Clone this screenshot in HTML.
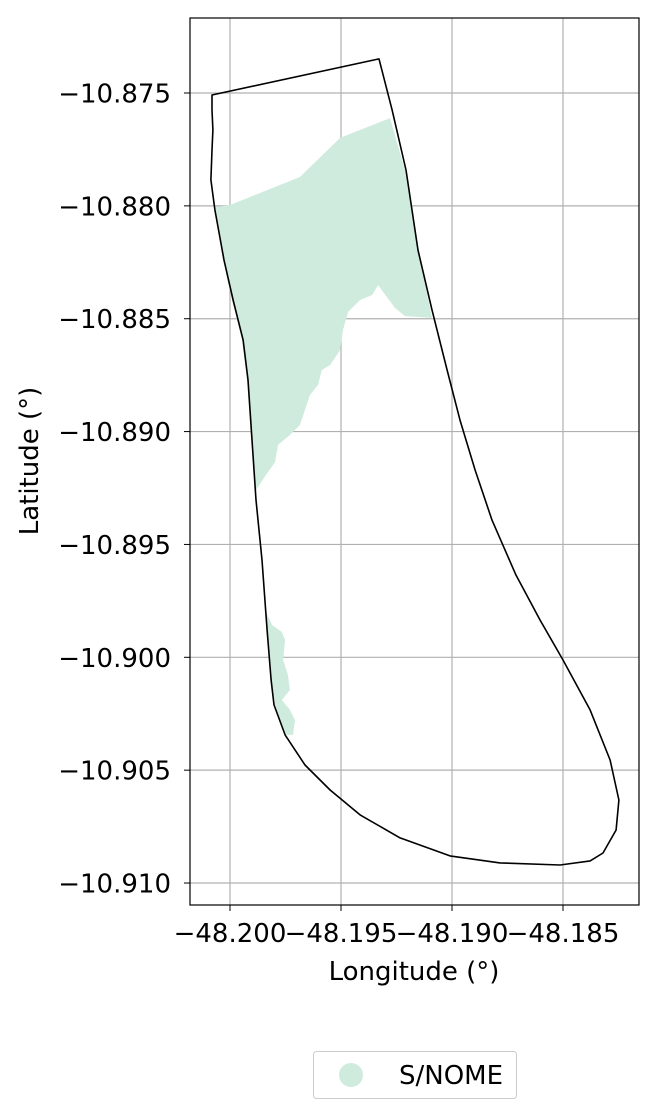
<!DOCTYPE html>
<html>
<head>
<meta charset="utf-8">
<style>
html,body{margin:0;padding:0;background:#fff;}
svg{display:block;font-family:"DejaVu Sans","Liberation Sans",sans-serif;}
</style>
</head>
<body>
<svg id="chart" width="658" height="1119" viewBox="0 0 658 1119">
  <rect x="0" y="0" width="658" height="1119" fill="#fff"/>
  <g id="grid"></g>
  <g id="areas"></g>
  <g id="outline"></g>
  <rect x="190" y="18" width="449" height="887" fill="none" stroke="#000" stroke-width="1.2"/>
  <g id="ticks"></g>
  <text x="414" y="980" font-size="26" text-anchor="middle">Longitude (°)</text>
  <text x="38" y="461" font-size="26" text-anchor="middle" transform="rotate(-90 38 461)">Latitude (°)</text>
  <g>
    <rect x="313.5" y="1051.5" width="203" height="47" rx="3" fill="#fff" stroke="#ccc" stroke-width="1"/>
    <circle cx="351" cy="1075" r="12" fill="#cfebdd"/>
    <text x="399" y="1084" font-size="26">S/NOME</text>
  </g>
</svg>
<script>
const xTicks = [-48.200, -48.195, -48.190, -48.185];
const yTicks = [-10.875, -10.880, -10.885, -10.890, -10.895, -10.900, -10.905, -10.910];
const xTickLabels = ["\u221248.200", "\u221248.195", "\u221248.190", "\u221248.185"];
const yTickLabels = ["\u221210.875", "\u221210.880", "\u221210.885", "\u221210.890", "\u221210.895", "\u221210.900", "\u221210.905", "\u221210.910"];

const outlineLon = [-48.20081,-48.19329,-48.19270,-48.19207,-48.19153,-48.19090,-48.19022,-48.18964,-48.18896,-48.18820,-48.18712,-48.18603,-48.18500,-48.18378,-48.18288,-48.18248,-48.18261,-48.18320,-48.18378,-48.18513,-48.18784,-48.19009,-48.19234,-48.19414,-48.19549,-48.19662,-48.19752,-48.19802,-48.19815,-48.19833,-48.19856,-48.19883,-48.19901,-48.19919,-48.19941,-48.19986,-48.20027,-48.20068,-48.20086,-48.20081,-48.20077,-48.20081];
const outlineLat = [-10.87509,-10.87349,-10.87575,-10.87841,-10.88196,-10.88461,-10.88727,-10.88949,-10.89170,-10.89392,-10.89635,-10.89835,-10.90012,-10.90233,-10.90455,-10.90632,-10.90765,-10.90867,-10.90902,-10.90920,-10.90911,-10.90880,-10.90800,-10.90698,-10.90588,-10.90477,-10.90344,-10.90211,-10.90100,-10.89879,-10.89569,-10.89303,-10.89037,-10.88771,-10.88594,-10.88417,-10.88240,-10.88018,-10.87885,-10.87753,-10.87664,-10.87575];

const area1Lon = [-48.20068,-48.20000,-48.19685,-48.19504,-48.19279,-48.19212,-48.19153,-48.19090,-48.19212,-48.19257,-48.19333,-48.19360,-48.19414,-48.19468,-48.19491,-48.19504,-48.19549,-48.19586,-48.19604,-48.19640,-48.19662,-48.19685,-48.19730,-48.19784,-48.19797,-48.19838,-48.19883,-48.19892,-48.19905,-48.19923,-48.19946,-48.19991,-48.20032];
const area1Lat = [-10.88005,-10.87996,-10.87872,-10.87699,-10.87611,-10.87841,-10.88196,-10.88497,-10.88488,-10.88452,-10.88351,-10.88395,-10.88417,-10.88470,-10.88550,-10.88639,-10.88705,-10.88727,-10.88794,-10.88838,-10.88904,-10.88971,-10.89015,-10.89059,-10.89135,-10.89192,-10.89259,-10.89170,-10.89037,-10.88771,-10.88594,-10.88417,-10.88240];

const area2Lon = [-48.19842,-48.19811,-48.19766,-48.19752,-48.19761,-48.19739,-48.19730,-48.19766,-48.19730,-48.19707,-48.19716,-48.19752,-48.19797,-48.19815,-48.19829];
const area2Lat = [-10.89790,-10.89857,-10.89888,-10.89923,-10.90012,-10.90078,-10.90145,-10.90189,-10.90233,-10.90278,-10.90344,-10.90344,-10.90211,-10.90100,-10.89923];

const NS = "http://www.w3.org/2000/svg";
function xs(lon){ return 230 + (lon - (-48.200)) / 0.005 * 111; }
function ys(lat){ return 93 + ((-10.875) - lat) / 0.005 * 112.86; }

const grid = document.getElementById('grid');
const ticks = document.getElementById('ticks');
xTicks.forEach((v,i)=>{
  const x = xs(v);
  const l = document.createElementNS(NS,'line');
  l.setAttribute('x1',x);l.setAttribute('x2',x);l.setAttribute('y1',18);l.setAttribute('y2',905);
  l.setAttribute('stroke','#b0b0b0');l.setAttribute('stroke-width','1.2');
  
  
  grid.appendChild(l);
  const t = document.createElementNS(NS,'line');
  t.setAttribute('x1',x);t.setAttribute('x2',x);t.setAttribute('y1',905);t.setAttribute('y2',911);
  t.setAttribute('stroke','#000');
  
  
  ticks.appendChild(t);
  const tx = document.createElementNS(NS,'text');
  tx.setAttribute('x',x);tx.setAttribute('y',942);tx.setAttribute('font-size','26');tx.setAttribute('text-anchor','middle');
  tx.textContent = xTickLabels[i];
  
  
  ticks.appendChild(tx);
});
yTicks.forEach((v,i)=>{
  const y = ys(v);
  const l = document.createElementNS(NS,'line');
  l.setAttribute('x1',190);l.setAttribute('x2',639);l.setAttribute('y1',y);l.setAttribute('y2',y);
  l.setAttribute('stroke','#b0b0b0');l.setAttribute('stroke-width','1.2');
  
  
  grid.appendChild(l);
  const t = document.createElementNS(NS,'line');
  t.setAttribute('x1',184);t.setAttribute('x2',190);t.setAttribute('y1',y);t.setAttribute('y2',y);
  t.setAttribute('stroke','#000');
  
  
  ticks.appendChild(t);
  const tx = document.createElementNS(NS,'text');
  tx.setAttribute('x',171);tx.setAttribute('y',y+9.5);tx.setAttribute('font-size','26');tx.setAttribute('text-anchor','end');
  tx.textContent = yTickLabels[i];
  
  
  ticks.appendChild(tx);
});

function pts(lons, lats){ return lons.map((lo,i)=>xs(lo).toFixed(1)+','+ys(lats[i]).toFixed(1)).join(' '); }
const areas = document.getElementById('areas');
const a1 = document.createElementNS(NS,'polygon');
a1.setAttribute('points', pts(area1Lon, area1Lat));
a1.setAttribute('fill','#cfebdd');


areas.appendChild(a1);
const a2 = document.createElementNS(NS,'polygon');
a2.setAttribute('points', pts(area2Lon, area2Lat));
a2.setAttribute('fill','#cfebdd');


areas.appendChild(a2);

const ol = document.createElementNS(NS,'polygon');
ol.setAttribute('points', pts(outlineLon, outlineLat));
ol.setAttribute('fill','none');ol.setAttribute('stroke','#000');ol.setAttribute('stroke-width','1.6');ol.setAttribute('stroke-linejoin','round');


document.getElementById('outline').appendChild(ol);
</script>
</body>
</html>
